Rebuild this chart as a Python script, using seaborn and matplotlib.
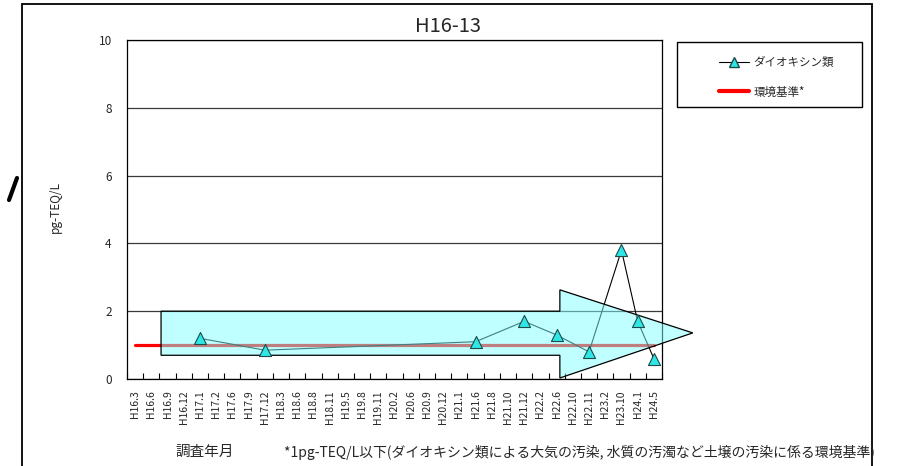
import numpy as np
import matplotlib.pyplot as plt
import seaborn as sns
import pandas as pd
from matplotlib.patches import Polygon, Rectangle
from matplotlib.lines import Line2D

sns.set_theme(style="white")
plt.rcParams['font.family'] = ['Noto Sans CJK JP', 'DejaVu Sans']

# survey months on the x axis (categories)
survey_months = ["H16.3", "H16.6", "H16.9", "H16.12", "H17.1", "H17.2", "H17.6",
                 "H17.9", "H17.12", "H18.3", "H18.6", "H18.8", "H18.11", "H19.5",
                 "H19.8", "H19.11", "H20.2", "H20.6", "H20.9", "H20.12", "H21.1",
                 "H21.6", "H21.8", "H21.10", "H21.12", "H22.2", "H22.6", "H22.10",
                 "H22.11", "H23.2", "H23.10", "H24.1", "H24.5"]
# measured dioxin values (pg-TEQ/L)
sample_months = ["H17.1", "H17.12", "H21.6", "H21.12", "H22.6", "H22.11",
                 "H23.10", "H24.1", "H24.5"]
dioxin_values = [1.2, 0.85, 1.1, 1.7, 1.3, 0.8, 3.8, 1.7, 0.6]
standard_value = 1.0

title = "H16-13"
series_label = "ダイオキシン類"
standard_label = "環境基準*"
footnote = "*1pg-TEQ/L以下(ダイオキシン類による大気の汚染, 水質の汚濁など土壌の汚染に係る環境基準)"

W, H = 906, 466
MARKER_FACE = "#2ee6e6"
MARKER_EDGE = "#1e4a4a"


def fx(px):
    return px / W


def fy(py):
    return 1 - py / H


def main():
    pos = {m: i for i, m in enumerate(survey_months)}
    df = pd.DataFrame({"month": sample_months, "value": dioxin_values})
    df["x"] = df["month"].map(pos)
    std_df = pd.DataFrame({"x": np.arange(len(survey_months)),
                           "value": standard_value})

    fig = plt.figure(figsize=(W / 100, H / 100), dpi=100)
    fig.patch.set_facecolor("white")
    ax = fig.add_axes([fx(127), fy(379), fx(662) - fx(127), fy(40) - fy(379)])

    # standard line and measured line (under the arrow)
    sns.lineplot(data=std_df, x="x", y="value", color="red", lw=2.3,
                 ax=ax, zorder=2, legend=False)
    sns.lineplot(data=df, x="x", y="value", color="black", lw=0.8,
                 sort=False, ax=ax, zorder=2, legend=False)

    # big decorative arrow
    arrow = Polygon([(1.6, 0.7), (26.2, 0.7), (26.2, 0.03), (34.4, 1.36),
                     (26.2, 2.63), (26.2, 2.0), (1.6, 2.0)],
                    closed=True, facecolor=(0.5, 1.0, 1.0, 0.5),
                    edgecolor="black", lw=0.9, zorder=3, clip_on=False)
    ax.add_patch(arrow)

    # markers on top
    sns.scatterplot(data=df, x="x", y="value", marker="^", s=75,
                    color=MARKER_FACE, edgecolor=MARKER_EDGE, linewidth=0.8,
                    ax=ax, zorder=4, legend=False)

    ax.set_xlim(-0.5, len(survey_months) - 0.5)
    ax.set_ylim(0, 10)
    ax.set_yticks(np.arange(0, 11, 2))
    ax.set_yticklabels([str(v) for v in range(0, 11, 2)], fontsize=8.5)
    ax.set_xticks(np.arange(len(survey_months)))
    ax.set_xticklabels(survey_months, rotation=90, fontsize=7.5)
    ax.set_xticks(np.arange(-0.5, len(survey_months)), minor=True)
    ax.tick_params(axis="x", which="major", length=0, pad=8)
    ax.tick_params(axis="x", which="minor", direction="in", length=4,
                   width=0.8, color="black", bottom=True)
    ax.tick_params(axis="y", length=0, pad=11)
    ax.set_xlabel("")
    ax.set_ylabel("")
    ax.yaxis.grid(True, color="#3a3a3a", lw=0.9)
    ax.xaxis.grid(False)
    ax.set_axisbelow(True)
    for s in ax.spines.values():
        s.set_color("black")
        s.set_linewidth(0.9)
    fig.text(fx(448), fy(27), title, ha="center", va="center", fontsize=14.5)

    # legend
    handles = [Line2D([], [], color="black", lw=0.8, marker="^", ms=7,
                      mfc=MARKER_FACE, mec=MARKER_EDGE),
               Line2D([], [], color="red", lw=3)]
    fig.legend(handles, [series_label, standard_label], frameon=False,
               loc="upper left", bbox_to_anchor=(fx(713), fy(50)),
               borderpad=0, handlelength=2.6, handletextpad=0.4,
               labelspacing=1.45, fontsize=8.3)
    fig.add_artist(Rectangle((fx(677), fy(107)), fx(862) - fx(677),
                             fy(42) - fy(107), transform=fig.transFigure,
                             fill=False, ec="black", lw=1))

    # texts
    fig.text(fx(55), fy(207), "pg-TEQ/L", rotation=90, ha="center",
             va="center", fontsize=8.5)
    fig.text(fx(205), fy(452), "調査年月", ha="center", va="center",
             fontsize=10.5)
    fig.text(fx(284), fy(452), footnote, ha="left", va="center", fontsize=10)

    # outer frame and stray mark
    fig.add_artist(Rectangle((fx(22), -0.02), fx(872) - fx(22), fy(4) + 0.02,
                             transform=fig.transFigure, fill=False,
                             ec="black", lw=1.3))
    fig.add_artist(Line2D([fx(9), fx(17)], [fy(200), fy(178)],
                          transform=fig.transFigure, color="black", lw=3))

    fig.savefig("out.png", dpi=100)


if __name__ == '__main__':
    main()
